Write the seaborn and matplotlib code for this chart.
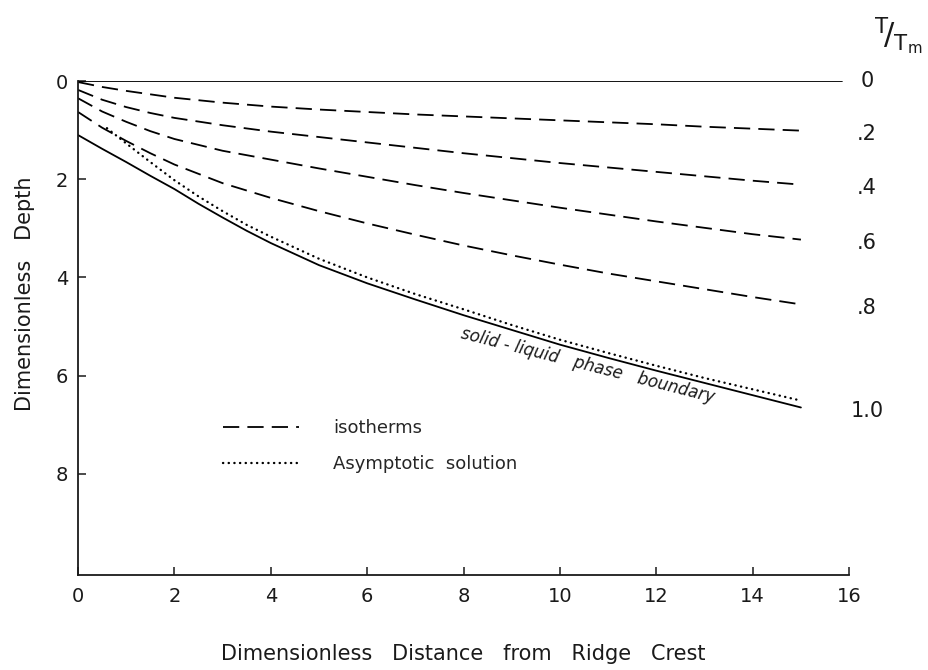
import numpy as np
import pandas as pd
import seaborn as sns
import matplotlib
matplotlib.use('Agg')
import matplotlib.pyplot as plt
from matplotlib.lines import Line2D

# values (x = distance from ridge crest, y = depth)
iso_x = [0, 0.5, 1, 1.5, 2, 3, 4, 5, 6, 7, 8, 9, 10, 11, 12, 13, 14, 15]
iso_02 = [0.02, 0.12, 0.20, 0.27, 0.34, 0.44, 0.52, 0.58, 0.63, 0.68, 0.72, 0.76,
          0.80, 0.84, 0.88, 0.93, 0.97, 1.01]
iso_04 = [0.18, 0.38, 0.53, 0.65, 0.75, 0.90, 1.03, 1.14, 1.25, 1.36, 1.47, 1.57,
          1.67, 1.76, 1.85, 1.94, 2.03, 2.11]
iso_06 = [0.35, 0.62, 0.83, 1.02, 1.18, 1.42, 1.60, 1.78, 1.95, 2.12, 2.28, 2.43,
          2.58, 2.72, 2.86, 2.99, 3.12, 3.23]
iso_08 = [0.63, 0.95, 1.22, 1.47, 1.70, 2.08, 2.38, 2.65, 2.90, 3.13, 3.35, 3.55,
          3.74, 3.92, 4.08, 4.24, 4.40, 4.55]
iso_levels = ['.2', '.4', '.6', '.8']

surf_x = [0, 15.85]
surf_y = [0, 0]

bound_x = [0, 0.5, 1, 1.5, 2, 2.5, 3, 3.5, 4, 5, 6, 7, 8, 9, 10, 11, 12, 13, 14, 15]
bound_y = [1.10, 1.38, 1.65, 1.93, 2.20, 2.50, 2.78, 3.05, 3.30, 3.75, 4.12, 4.45,
           4.77, 5.07, 5.37, 5.64, 5.90, 6.15, 6.40, 6.65]

asym_x = [0.6, 1, 1.5, 2, 2.5, 3, 3.5, 4, 5, 6, 7, 8, 9, 10, 11, 12, 13, 14, 15]
asym_y = [0.96, 1.27, 1.65, 2.02, 2.35, 2.65, 2.93, 3.17, 3.62, 4.00, 4.34, 4.65,
          4.97, 5.27, 5.54, 5.80, 6.05, 6.28, 6.51]

x_ticks = [0, 2, 4, 6, 8, 10, 12, 14, 16]
y_ticks = [0, 2, 4, 6, 8]

sns.set_theme(style='ticks')
plt.rcParams['font.family'] = ['DejaVu Sans']

iso = pd.DataFrame({
    'x': iso_x * 4,
    'depth': iso_02 + iso_04 + iso_06 + iso_08,
    'level': [lv for lv in iso_levels for _ in iso_x],
})

fig = plt.figure(figsize=(9.29, 6.7), dpi=100)
ax = fig.add_axes([0.084, 0.142, 0.830, 0.737])

dash = (9, 4.5)
dot = (0.1, 2.3)
ink = '#1a1a1a'

sns.lineplot(data=iso, x='x', y='depth', style='level', units='level', estimator=None,
             dashes={lv: dash for lv in iso_levels}, color='black', lw=1.3,
             legend=False, ax=ax)
sns.lineplot(x=surf_x, y=surf_y, color='black', lw=1.3, ax=ax)
sns.lineplot(x=bound_x, y=bound_y, color='black', lw=1.3, ax=ax)
sns.lineplot(x=asym_x, y=asym_y, color='black', lw=1.7, linestyle=(0, dot),
             dash_capstyle='round', ax=ax)

ax.set_xlim(0, 16)
ax.set_ylim(10.06, 0)
ax.set_xticks(x_ticks)
ax.set_yticks(y_ticks)
ax.tick_params(direction='in', length=6, width=1.1, labelsize=14, colors=ink)
ax.tick_params(axis='x', pad=9)
ax.tick_params(axis='y', pad=7)
sns.despine(ax=ax)
for s in ['left', 'bottom']:
    ax.spines[s].set_linewidth(1.3)
    ax.spines[s].set_color(ink)

ax.set_xlabel('Dimensionless   Distance   from   Ridge   Crest', fontsize=15, color=ink)
ax.xaxis.set_label_coords(0.5, -0.14)
ax.set_ylabel('Dimensionless   Depth', fontsize=15, color=ink)
ax.yaxis.set_label_coords(-0.056, 0.57)

# T/Tm labels at the right end of each curve
ends = [0] + [iso_02[-1], iso_04[-1], iso_06[-1], iso_08[-1], bound_y[-1]]
labels = ['0'] + iso_levels + ['1.0']
for lab, yv in zip(labels, ends):
    off = 0 if lab == '0' else 0.07
    ax.text(16.37, yv + off, lab, fontsize=15, ha='center', va='center',
            clip_on=False, color=ink)
fig.text(0.967, 0.945, r'$^{\mathrm{T}}\!/_{\mathrm{T_m}}$', fontsize=22,
         ha='center', va='center', color=ink)

ax.text(10.58, 5.8, 'solid - liquid   phase   boundary', fontsize=12,
        style='italic', rotation=-14.3, ha='center', va='center', color=ink)

handles = [Line2D([], [], color='black', lw=1.3, dashes=dash),
           Line2D([], [], color='black', lw=1.7, linestyle=(0, dot), dash_capstyle='round')]
ax.legend(handles, ['isotherms', 'Asymptotic  solution'], loc='upper left',
          bbox_to_anchor=(0.188, 0.316), frameon=False, fontsize=13,
          handlelength=4.2, handletextpad=1.9, labelspacing=1.0,
          borderpad=0, borderaxespad=0)

fig.savefig('out.png', dpi=100, facecolor='white')
